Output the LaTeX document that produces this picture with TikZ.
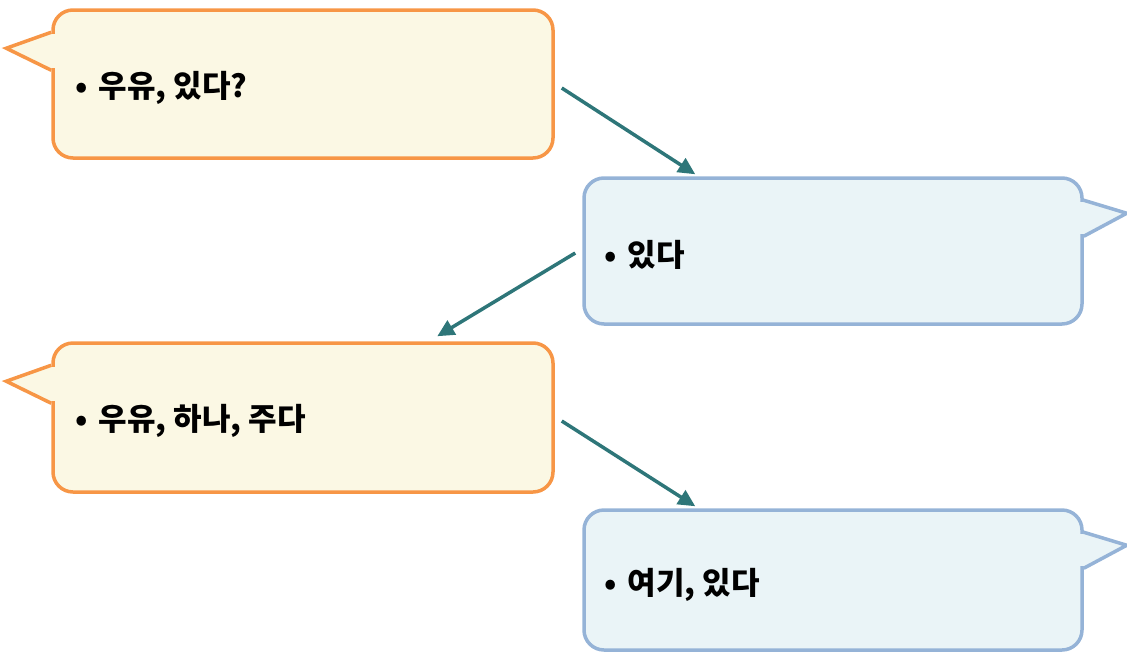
\documentclass[tikz,border=0pt]{standalone}
\usepackage{fontspec}
\newfontfamily\kr{Noto Sans CJK KR}
\usetikzlibrary{arrows.meta,calc}
\definecolor{boxorange}{HTML}{F79646}
\definecolor{cream}{HTML}{FBF8E4}
\definecolor{boxblue}{HTML}{95B3D7}
\definecolor{paleblue}{HTML}{EAF4F7}
\definecolor{arrowteal}{HTML}{2E7679}
\begin{document}
\begin{tikzpicture}[x=1pt,y=-1pt,
  orangebox/.style={draw=boxorange, fill=cream, line width=3.5pt, rounded corners=20pt,
    minimum width=500pt, minimum height=148pt, inner sep=0pt},
  bluebox/.style={draw=boxblue, fill=paleblue, line width=3.5pt, rounded corners=20pt,
    minimum width=498pt, minimum height=146pt, inner sep=0pt},
  txt/.style={anchor=west, inner sep=0pt, font=\kr\bfseries\fontsize{31}{35}\selectfont},
  conn/.style={draw=arrowteal, line width=3.5pt, -{Triangle[length=17pt,width=16pt]}},
  tailline/.style={line width=3.5pt, line join=miter}
]
\useasboundingbox (0,0) rectangle (1127,654);

% boxes
\node[orangebox] (b1) at (303,84) {};
\node[bluebox] (b2) at (833,251) {};
\node[orangebox, minimum height=149pt] (b3) at (303,417.5) {};
\node[bluebox, minimum height=140pt] (b4) at (833,580) {};

% tails, left side (orange)
\foreach \b in {b1,b3}{
  \coordinate (\b ta) at ($(\b.north west)+(0,24)$);
  \coordinate (\b tip) at ($(\b.north west)+(-45,40)$);
  \coordinate (\b tb) at ($(\b.north west)+(0,62)$);
  \fill[cream] (\b tip) -- (\b ta) -- (\b tb) -- cycle;
  \fill[cream] ($(\b ta)+(-3,2)$) rectangle ($(\b tb)+(4,-2)$);
  \draw[tailline, boxorange] (\b ta) -- (\b tip) -- (\b tb);
}
% tails, right side (blue)
\foreach \b in {b2,b4}{
  \coordinate (\b ta) at ($(\b.north east)+(0,24)$);
  \coordinate (\b tip) at ($(\b.north east)+(43,37)$);
  \coordinate (\b tb) at ($(\b.north east)+(0,60)$);
  \fill[paleblue] (\b tip) -- (\b ta) -- (\b tb) -- cycle;
  \fill[paleblue] ($(\b ta)+(3,2)$) rectangle ($(\b tb)+(-4,-2)$);
  \draw[tailline, boxblue] (\b ta) -- (\b tip) -- (\b tb);
}

% texts
\node[txt] (t1) at (75,88) {•\hspace{11pt}우유, 있다?};
\node[txt] (t2) at (604,255) {•\hspace{11pt}있다};
\node[txt] (t3) at (75,421) {•\hspace{11pt}우유, 하나, 주다};
\node[txt] (t4) at (604,585) {•\hspace{11pt}여기, 있다};

% connectors
\draw[conn] ($(b1.east)+(7,4)$) -- ($(b2.north west)+(113,-2)$);
\draw[conn] ($(b2.west)+(-7,2)$) -- ($(b3.north west)+(386,-5)$);
\draw[conn] ($(b3.east)+(7,3.5)$) -- ($(b4.north west)+(113,-2)$);
\end{tikzpicture}
\end{document}
